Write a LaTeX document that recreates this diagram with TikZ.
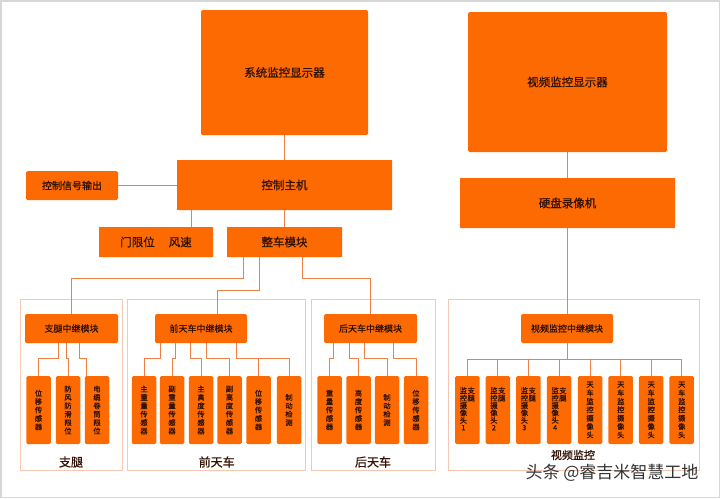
\documentclass[tikz,border=0pt]{standalone}
\usepackage{fontspec}
\setmainfont{Noto Sans CJK SC}
\newfontfamily\medfont{Noto Sans CJK SC}[FakeBold=0.8]
\definecolor{boxC}{RGB}{253,106,2}
\definecolor{txtC}{RGB}{50,18,2}
\definecolor{lineC}{RGB}{236,128,70}
\definecolor{frameC}{RGB}{244,200,178}
\definecolor{edgeC}{RGB}{215,215,215}
\begin{document}
\begin{tikzpicture}[x=1pt,y=-1pt,
  box/.style={fill=boxC, draw=none, rounded corners=1.5pt, text=txtC, inner sep=0pt, align=center},
  bigbox/.style={box, font=\medfont\fontsize{11.5}{13}\selectfont},
  relay/.style={box, minimum width=92pt, minimum height=29pt, font=\medfont\fontsize{9}{10}\selectfont},
  sensor/.style={box, minimum width=24.5pt, minimum height=68pt, font=\medfont\fontsize{7.3}{8.4}\selectfont},
  conn/.style={draw=lineC, line width=0.9pt},
  grp/.style={draw=frameC, line width=0.9pt, minimum height=171pt, inner sep=0pt},
  glabel/.style={text=txtC, font=\medfont\fontsize{12}{13}\selectfont}
]
\useasboundingbox (0,0) rectangle (720,498);
\draw[edgeC, line width=1.5pt] (0.75,0.75) rectangle (719.25,497.25);

% group frames
\node[grp, minimum width=102.7pt] (gL) at (71.35,384.5) {};
\node[grp, minimum width=178pt]   (gF) at (216.7,384.5) {};
\node[grp, minimum width=123.3pt] (gR) at (373.35,384.5) {};
\node[grp, minimum width=251pt]   (gV) at (573.5,384.5) {};

% top level
\node[bigbox, minimum width=167pt, minimum height=125pt] (sysmon) at (284.5,72.5) {系统监控显示器};
\node[bigbox, minimum width=199pt, minimum height=140pt] (vidmon) at (567.5,82) {视频监控显示器};
\node[bigbox, minimum width=215pt, minimum height=50pt, rounded corners=0.5pt] (dvr) at (567.5,203) {硬盘录像机};
\node[bigbox, minimum width=215pt, minimum height=50pt, rounded corners=0.5pt] (host) at (284.5,185) {控制主机};
\node[box, minimum width=92pt, minimum height=29pt, font=\medfont\fontsize{10}{11}\selectfont] (sigout) at (72,185.5) {控制信号输出};
\node[bigbox, minimum width=114pt, minimum height=30pt, rounded corners=0.5pt] (door) at (156,242) {门限位\hspace{14pt}风速};
\node[bigbox, minimum width=115pt, minimum height=30pt, rounded corners=0.5pt] (whole) at (284.5,242) {整车模块};

% relay modules
\node[relay, minimum width=93pt] (rL) at (71.5,328.5) {支腿中继模块};
\node[relay] (rF) at (201,328.5) {前天车中继模块};
\node[relay, minimum width=93pt] (rR) at (370.5,328.5) {后天车中继模块};
\node[relay] (rV) at (567,328.5) {视频监控中继模块};

% leg sensors
\node[sensor] (sL1) at (38.5,410) {位\\移\\传\\感\\器};
\node[sensor] (sL2) at (68,410) {防\\风\\防\\滑\\限\\位};
\node[sensor] (sL3) at (97,410) {电\\缆\\卷\\筒\\限\\位};

% front crane sensors
\node[sensor] (sF1) at (144,410) {主\\重\\量\\传\\感\\器};
\node[sensor] (sF2) at (172,410) {副\\重\\量\\传\\感\\器};
\node[sensor] (sF3) at (201,410) {主\\高\\度\\传\\感\\器};
\node[sensor] (sF4) at (229.5,410) {副\\高\\度\\传\\感\\器};
\node[sensor] (sF5) at (258.5,410) {位\\移\\传\\感\\器};
\node[sensor] (sF6) at (289,410) {制\\动\\检\\测};

% rear crane sensors
\node[sensor] (sR1) at (329.5,410) {重\\量\\传\\感\\器};
\node[sensor] (sR2) at (358.5,410) {高\\度\\传\\感\\器};
\node[sensor] (sR3) at (387,410) {制\\动\\检\\测};
\node[sensor] (sR4) at (416,410) {位\\移\\传\\感\\器};

% video cameras
\newcommand{\legcam}[1]{\begin{tabular}{@{}c@{\hspace{0.5pt}}c@{}}监&支\\[-1.2pt]控&腿\\[-1.2pt]摄&\\[-1.2pt]像&\\[-1.2pt]头&\\[-1.2pt]#1&\end{tabular}}
\node[sensor] (sV1) at (467.3,410) {\legcam{1}};
\node[sensor] (sV2) at (497.8,410) {\legcam{2}};
\node[sensor] (sV3) at (528.3,410) {\legcam{3}};
\node[sensor] (sV4) at (559,410) {\legcam{4}};
\node[sensor] (sV5) at (590,410) {天\\车\\监\\控\\摄\\像\\头};
\node[sensor] (sV6) at (620.7,410) {天\\车\\监\\控\\摄\\像\\头};
\node[sensor] (sV7) at (651.2,410) {天\\车\\监\\控\\摄\\像\\头};
\node[sensor] (sV8) at (681.7,410) {天\\车\\监\\控\\摄\\像\\头};

% group labels
\node[glabel] (lL) at (71,462) {支腿};
\node[glabel] (lF) at (216.7,462) {前天车};
\node[glabel] (lR) at (373,462) {后天车};
\node[glabel, font=\medfont\fontsize{11}{12}\selectfont] (lV) at (573,455) {视频监控};
\node[text=black!80, font=\fontsize{17}{18}\selectfont] (wm) at (612,473) {头条 @睿吉米智慧工地};

% connectors: top
\draw[conn] (sysmon.south) -- (host.north);
\draw[conn] (sigout.east) -- (host.west |- sigout.east);
\draw[conn] (host.south -| 191,0) -- (door.north -| 191,0);
\draw[conn] (host.south) -- (whole.north);
\draw[conn] (vidmon.south) -- (dvr.north);
\draw[conn] (dvr.south) -- (rV.north -| dvr.south);

% whole -> relays
\draw[conn] (whole.south -| 243,0) -- ++(0,21) -| (rL.north);
\draw[conn] (whole.south -| 259,0) -- ++(0,33) -| (rF.north -| 217,0);
\draw[conn] (whole.south -| 302,0) -- ++(0,21) -| (rR.north);

% leg relay -> sensors
\draw[conn] (rL.south -| 58.3,0) -- ++(0,15.3) -| (sL1.north);
\draw[conn] (rL.south -| 66.7,0) -- ++(0,15.3) -| (sL2.north);
\draw[conn] (rL.south -| 79,0) -- ++(0,15.3) -| (sL3.north -| 86,0);

% front relay -> sensors
\draw[conn] (rF.south -| 160.7,0) -- ++(0,15.3) -| (sF1.north);
\draw[conn] (rF.south -| 175.7,0) -- ++(0,15.3) -| (sF2.north);
\draw[conn] (rF.south -| 190.7,0) -- ++(0,15.3) -| (sF3.north);
\draw[conn] (rF.south -| 206.7,0) -- ++(0,15.3) -| (sF4.north);
\draw[conn] (rF.south -| 236.7,0) -- ++(0,15.3) -| (sF5.north);
\draw[conn] (rF.south -| 236.7,0) -- ++(0,15.3) -| (sF6.north);

% rear relay -> sensors
\draw[conn] (rR.south -| 333.3,0) -- ++(0,15.3) -| (sR1.north);
\draw[conn] (rR.south -| 349.3,0) -- ++(0,15.3) -| (sR2.north);
\draw[conn] (rR.south -| 364.3,0) -- ++(0,15.3) -| (sR3.north);
\draw[conn] (rR.south -| 393.3,0) -- ++(0,15.3) -| (sR4.north);

% video relay -> cameras
\coordinate (bus) at (0,359.3);
\draw[conn] (rV.south) -- (rV.south |- bus);
\draw[conn] (sV1.north |- bus) -- (sV8.north |- bus);
\foreach \i in {1,...,8}{
  \draw[conn] (sV\i.north) -- (sV\i.north |- bus);
}
\end{tikzpicture}
\end{document}
